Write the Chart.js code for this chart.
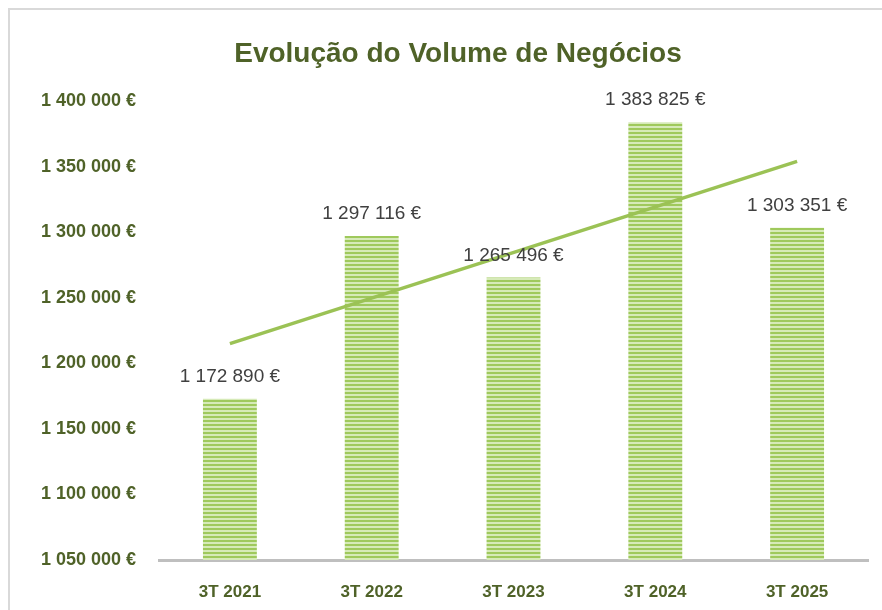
<!DOCTYPE html>
<html>
<head>
<meta charset="utf-8">
<script src="https://cdn.jsdelivr.net/npm/chart.js@4"></script>
<style>
  html, body { margin: 0; padding: 0; background: #fff; }
  #wrap { position: relative; width: 882px; height: 610px; }
  #frame { position: absolute; left: 8px; top: 8px; right: 0; bottom: 0;
           border-left: 2px solid #d9d9d9; border-top: 2px solid #d9d9d9; }
  canvas { position: absolute; left: 0; top: 0; }
</style>
</head>
<body>
<div id="wrap">
  <div id="frame"></div>
  <canvas id="chart" width="882" height="610"></canvas>
</div>
<script>
const title = 'Evolução do Volume de Negócios';
const labels = ['3T 2021', '3T 2022', '3T 2023', '3T 2024', '3T 2025'];
const values = [1172890, 1297116, 1265496, 1383825, 1303351];
// trend line, read at the first and last category
const trend = [1215000, null, null, null, 1354000];

const darkGreen = '#4f6228';
const lineGreen = '#9bc255';

const fmt = v => Math.round(v).toString().replace(/\B(?=(\d{3})+(?!\d))/g, ' ') + ' €';

const makeStripes = () => {
    const c = document.createElement('canvas');
    c.width = 4; c.height = 4;
    const g = c.getContext('2d');
    g.fillStyle = '#d6eab8';
    g.fillRect(0, 0, 4, 4);
    g.fillStyle = '#9fc95c';
    g.fillRect(0, 0, 4, 2);
    return g.createPattern(c, 'repeat');
};

const titlePlugin = {
    id: 'titleText',
    afterDraw: chart => {
        const ctx = chart.ctx;
        ctx.save();
        ctx.font = 'bold 28px "Liberation Sans"';
        ctx.fillStyle = darkGreen;
        ctx.textAlign = 'center';
        ctx.textBaseline = 'middle';
        ctx.fillText(title, 458, 54);
        ctx.restore();
    }
};

const barLabels = {
    id: 'barLabels',
    afterDatasetsDraw: chart => {
        const ctx = chart.ctx;
        const meta = chart.getDatasetMeta(1);
        ctx.save();
        ctx.font = '19px "Liberation Sans"';
        ctx.fillStyle = '#404040';
        ctx.textAlign = 'center';
        ctx.textBaseline = 'middle';
        meta.data.forEach((bar, i) => {
            ctx.fillText(fmt(values[i]), bar.x, bar.y - 22);
        });
        ctx.restore();
    }
};

new Chart(document.getElementById('chart'), {
    data: {
        labels: labels,
        datasets: [
            {
                type: 'line',
                data: trend,
                borderColor: lineGreen,
                borderWidth: 3.5,
                pointRadius: 0,
                spanGaps: true,
                order: 0
            },
            {
                type: 'bar',
                data: values,
                backgroundColor: makeStripes(),
                barPercentage: 0.38,
                categoryPercentage: 1,
                order: 1
            }
        ]
    },
    options: {
        responsive: false,
        animation: false,
        layout: { padding: { top: 101, right: 14, bottom: 0, left: 0 } },
        plugins: {
            legend: { display: false },
            tooltip: { enabled: false }
        },
        scales: {
            x: {
                grid: { display: false },
                border: { color: '#bfbfbf', width: 3 },
                ticks: {
                    color: darkGreen,
                    font: { family: 'Liberation Sans', size: 17, weight: 'bold' },
                    padding: 14
                },
                afterFit: s => { s.height = 50; }
            },
            y: {
                min: 1050000,
                max: 1400000,
                grid: { display: false },
                border: { display: false },
                ticks: {
                    stepSize: 50000,
                    color: darkGreen,
                    font: { family: 'Liberation Sans', size: 18, weight: 'bold' },
                    padding: 15,
                    callback: v => fmt(v)
                },
                afterFit: s => { s.width = 159; }
            }
        }
    },
    plugins: [titlePlugin, barLabels]
});
</script>
</body>
</html>
